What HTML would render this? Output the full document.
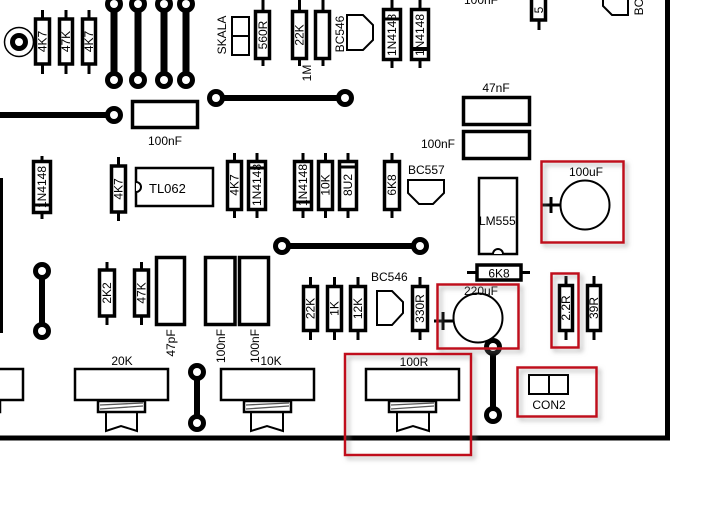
<!DOCTYPE html>
<html><head><meta charset="utf-8"><style>
html,body{margin:0;padding:0;background:#fff;}
svg{display:block;}
text{font-family:"Liberation Sans",sans-serif;font-size:12px;fill:#000;}
</style></head><body>
<svg width="725" height="509" viewBox="0 0 725 509" xmlns="http://www.w3.org/2000/svg">
<defs>
<filter id="sh" x="-20%" y="-20%" width="140%" height="140%">
<feDropShadow dx="3" dy="3" stdDeviation="2.5" flood-color="#888" flood-opacity="0.6"/>
</filter>
</defs>
<rect width="725" height="509" fill="#fff"/>

<!-- top-left ring -->
<circle cx="19" cy="42" r="14.5" fill="none" stroke="#000" stroke-width="1.5"/>
<circle cx="19" cy="42" r="9" fill="#000"/>
<circle cx="19" cy="42" r="4" fill="#fff"/>

<g stroke="#000" fill="#fff">
<!-- top resistors -->
<line x1="42.5" y1="10" x2="42.5" y2="74" stroke-width="3"/>
<rect x="35.5" y="19" width="14" height="45" stroke-width="3.5"/>
<line x1="66" y1="10" x2="66" y2="74" stroke-width="3"/>
<rect x="59.5" y="19" width="13" height="45" stroke-width="3.5"/>
<line x1="89" y1="10" x2="89" y2="74" stroke-width="3"/>
<rect x="82.5" y="19" width="13" height="45" stroke-width="3.5"/>
</g>
<text transform="translate(42.5,41.5) rotate(-90)" text-anchor="middle" dominant-baseline="central">4K7</text>
<text transform="translate(66,41.5) rotate(-90)" text-anchor="middle" dominant-baseline="central">47K</text>
<text transform="translate(89,41.5) rotate(-90)" text-anchor="middle" dominant-baseline="central">4K7</text>

<!-- top vertical tracks -->
<g stroke="#000" stroke-width="7">
<line x1="114" y1="4" x2="114" y2="80"/>
<line x1="138" y1="4" x2="138" y2="80"/>
<line x1="164" y1="4" x2="164" y2="80"/>
<line x1="186" y1="4" x2="186" y2="80"/>
</g>
<g fill="#000">
<circle cx="114" cy="4" r="9"/><circle cx="138" cy="4" r="9"/><circle cx="164" cy="4" r="9"/><circle cx="186" cy="4" r="9"/>
<circle cx="114" cy="80" r="9"/><circle cx="138" cy="80" r="9"/><circle cx="164" cy="80" r="9"/><circle cx="186" cy="80" r="9"/>
</g>
<g fill="#fff">
<circle cx="114" cy="4" r="4"/><circle cx="138" cy="4" r="4"/><circle cx="164" cy="4" r="4"/><circle cx="186" cy="4" r="4"/>
<circle cx="114" cy="80" r="4"/><circle cx="138" cy="80" r="4"/><circle cx="164" cy="80" r="4"/><circle cx="186" cy="80" r="4"/>
</g>

<!-- horizontal track left -->
<line x1="0" y1="115" x2="114" y2="115" stroke="#000" stroke-width="6"/>
<circle cx="114" cy="115" r="9" fill="#000"/><circle cx="114" cy="115" r="4" fill="#fff"/>

<!-- 100nF cap -->
<rect x="132.5" y="101.5" width="65" height="26" fill="#fff" stroke="#000" stroke-width="3.5"/>
<text x="165" y="145" text-anchor="middle">100nF</text>

<!-- track 217-345 -->
<line x1="216" y1="98" x2="345" y2="98" stroke="#000" stroke-width="6"/>
<circle cx="216" cy="98" r="9" fill="#000"/><circle cx="216" cy="98" r="4" fill="#fff"/>
<circle cx="345" cy="98" r="9" fill="#000"/><circle cx="345" cy="98" r="4" fill="#fff"/>

<!-- SKALA -->
<text transform="translate(222,35) rotate(-90)" text-anchor="middle" dominant-baseline="central">SKALA</text>
<rect x="232" y="17" width="17" height="38" fill="#fff" stroke="#000" stroke-width="2"/>
<line x1="232" y1="36" x2="249" y2="36" stroke="#000" stroke-width="2"/>

<g stroke="#000" fill="#fff">
<line x1="263" y1="0" x2="263" y2="66" stroke-width="3"/>
<rect x="255.5" y="11.5" width="14" height="47" stroke-width="3.5"/>
<line x1="299.5" y1="0" x2="299.5" y2="66" stroke-width="3"/>
<rect x="292.5" y="11.5" width="14" height="47" stroke-width="3.5"/>
<line x1="323" y1="0" x2="323" y2="66" stroke-width="3"/>
<rect x="315.5" y="11.5" width="14" height="47" stroke-width="3.5"/>
<!-- diodes -->
<line x1="392" y1="0" x2="392" y2="68" stroke-width="3"/>
<rect x="383.5" y="9.5" width="17" height="50" stroke-width="3.5"/>
<line x1="420" y1="0" x2="420" y2="68" stroke-width="3"/>
<rect x="411.5" y="9.5" width="17" height="50" stroke-width="3.5"/>
</g>
<line x1="383.5" y1="19" x2="400.5" y2="19" stroke="#000" stroke-width="3"/>
<line x1="411.5" y1="49" x2="428.5" y2="49" stroke="#000" stroke-width="4"/>
<text transform="translate(263,35) rotate(-90)" text-anchor="middle" dominant-baseline="central">560R</text>
<text transform="translate(299.5,35) rotate(-90)" text-anchor="middle" dominant-baseline="central">22K</text>
<text transform="translate(307,73) rotate(-90)" text-anchor="middle" dominant-baseline="central">1M</text>
<text transform="translate(340,34) rotate(-90)" text-anchor="middle" dominant-baseline="central">BC546</text>
<text transform="translate(392,35) rotate(-90)" text-anchor="middle" dominant-baseline="central">1N4148</text>
<text transform="translate(420,35) rotate(-90)" text-anchor="middle" dominant-baseline="central">1N4148</text>
<polygon points="347,15 363,15 373,25 373,40 363,50 347,50" fill="#fff" stroke="#000" stroke-width="2"/>

<!-- top right -->
<line x1="539" y1="0" x2="539" y2="30" stroke="#000" stroke-width="3"/>
<rect x="531.5" y="-5" width="14" height="25" fill="#fff" stroke="#000" stroke-width="3.5"/>
<text transform="translate(539,10) rotate(-90)" text-anchor="middle" dominant-baseline="central">5</text>
<polyline points="603,0 603,6 612,15 628,15 628,0" fill="none" stroke="#000" stroke-width="2"/>
<text transform="translate(639,7) rotate(-90)" text-anchor="middle" dominant-baseline="central">BC</text>
<text x="481" y="4" text-anchor="middle">100nF</text>

<!-- borders -->
<line x1="667.5" y1="0" x2="667.5" y2="440" stroke="#000" stroke-width="5"/>
<line x1="0" y1="438" x2="670" y2="438" stroke="#000" stroke-width="5"/>
<line x1="1.5" y1="178" x2="1.5" y2="333" stroke="#000" stroke-width="3"/>

<!-- 47nF caps -->
<text x="496" y="92" text-anchor="middle">47nF</text>
<rect x="463.5" y="97.5" width="66" height="27" fill="#fff" stroke="#000" stroke-width="3.5"/>
<rect x="463.5" y="131.5" width="66" height="27" fill="#fff" stroke="#000" stroke-width="3.5"/>
<text x="455" y="148" text-anchor="end">100nF</text>

<!-- LM555 -->
<rect x="479" y="178" width="38" height="76" fill="#fff" stroke="#000" stroke-width="2.5"/>
<path d="M493,254 A5,5 0 0 1 503,254" fill="#fff" stroke="#000" stroke-width="2"/>
<text x="479" y="225">LM555</text>

<!-- 6K8 horizontal -->
<line x1="467" y1="272.5" x2="530" y2="272.5" stroke="#000" stroke-width="3"/>
<rect x="477" y="265" width="44" height="15" fill="#fff" stroke="#000" stroke-width="3.5"/>
<text x="499" y="277.5" text-anchor="middle">6K8</text>

<!-- 100uF -->
<circle cx="585" cy="205" r="24.5" fill="#fff" stroke="#000" stroke-width="2"/>
<line x1="542" y1="205" x2="561" y2="205" stroke="#000" stroke-width="3"/>
<line x1="551" y1="197" x2="551" y2="213" stroke="#000" stroke-width="3"/>
<text x="586" y="176" text-anchor="middle">100uF</text>

<!-- middle row -->
<g stroke="#000" fill="#fff">
<line x1="42" y1="156" x2="42" y2="219" stroke-width="3"/>
<rect x="33.5" y="161.5" width="17" height="51" stroke-width="3.5"/>
<line x1="118.5" y1="157" x2="118.5" y2="221" stroke-width="3"/>
<rect x="111.5" y="166" width="14" height="46" stroke-width="3.5"/>
<line x1="234.5" y1="153" x2="234.5" y2="218" stroke-width="3"/>
<rect x="227.5" y="161.5" width="14" height="48" stroke-width="3.5"/>
<line x1="257" y1="153" x2="257" y2="218" stroke-width="3"/>
<rect x="248.5" y="161.5" width="17" height="48" stroke-width="3.5"/>
<line x1="303" y1="153" x2="303" y2="218" stroke-width="3"/>
<rect x="294.5" y="161.5" width="17" height="48" stroke-width="3.5"/>
<line x1="325.5" y1="153" x2="325.5" y2="218" stroke-width="3"/>
<rect x="318.5" y="161.5" width="14" height="48" stroke-width="3.5"/>
<line x1="348" y1="153" x2="348" y2="218" stroke-width="3"/>
<rect x="339.5" y="161.5" width="17" height="48" stroke-width="3.5"/>
<line x1="392" y1="153" x2="392" y2="218" stroke-width="3"/>
<rect x="384.5" y="161.5" width="15" height="48" stroke-width="3.5"/>
</g>
<line x1="33.5" y1="205" x2="50.5" y2="205" stroke="#000" stroke-width="3"/>
<line x1="248.5" y1="168" x2="265.5" y2="168" stroke="#000" stroke-width="3"/>
<line x1="294.5" y1="202" x2="311.5" y2="202" stroke="#000" stroke-width="3"/>
<line x1="339.5" y1="167" x2="356.5" y2="167" stroke="#000" stroke-width="3"/>
<text transform="translate(42,187) rotate(-90)" text-anchor="middle" dominant-baseline="central">1N4148</text>
<text transform="translate(118.5,189) rotate(-90)" text-anchor="middle" dominant-baseline="central">4K7</text>
<text transform="translate(234.5,185) rotate(-90)" text-anchor="middle" dominant-baseline="central">4K7</text>
<text transform="translate(257,185) rotate(-90)" text-anchor="middle" dominant-baseline="central">1N4148</text>
<text transform="translate(303,185) rotate(-90)" text-anchor="middle" dominant-baseline="central">1N4148</text>
<text transform="translate(325.5,185) rotate(-90)" text-anchor="middle" dominant-baseline="central">10K</text>
<text transform="translate(348,185) rotate(-90)" text-anchor="middle" dominant-baseline="central">8U2</text>
<text transform="translate(392,185) rotate(-90)" text-anchor="middle" dominant-baseline="central">6K8</text>

<!-- TL062 -->
<rect x="136" y="168" width="77" height="38" fill="#fff" stroke="#000" stroke-width="2.5"/>
<path d="M136,182 A5,5 0 0 1 136,192" fill="#fff" stroke="#000" stroke-width="2"/>
<text x="149" y="193" style="font-size:13px">TL062</text>

<!-- BC557 -->
<text x="408" y="174">BC557</text>
<polygon points="408,180 444,180 444,193 433,204 419,204 408,193" fill="#fff" stroke="#000" stroke-width="2"/>

<!-- track 282-420 -->
<line x1="282" y1="246" x2="420" y2="246" stroke="#000" stroke-width="6"/>
<circle cx="282" cy="246" r="9" fill="#000"/><circle cx="282" cy="246" r="4" fill="#fff"/>
<circle cx="420" cy="246" r="9" fill="#000"/><circle cx="420" cy="246" r="4" fill="#fff"/>

<!-- left pad pair -->
<line x1="42" y1="271" x2="42" y2="331" stroke="#000" stroke-width="6"/>
<circle cx="42" cy="271" r="9" fill="#000"/><circle cx="42" cy="271" r="4" fill="#fff"/>
<circle cx="42" cy="331" r="9" fill="#000"/><circle cx="42" cy="331" r="4" fill="#fff"/>

<!-- lower-left resistors/caps -->
<g stroke="#000" fill="#fff">
<line x1="107" y1="262" x2="107" y2="325" stroke-width="3"/>
<rect x="99.5" y="270" width="15" height="46" stroke-width="3.5"/>
<line x1="141.5" y1="262" x2="141.5" y2="325" stroke-width="3"/>
<rect x="134.5" y="270" width="14" height="46" stroke-width="3.5"/>
<rect x="156.5" y="257.5" width="28" height="67" stroke-width="3.5"/>
<rect x="205.5" y="257.5" width="29.5" height="67" stroke-width="3.5"/>
<rect x="239.5" y="257.5" width="29" height="67" stroke-width="3.5"/>
</g>
<text transform="translate(107,293) rotate(-90)" text-anchor="middle" dominant-baseline="central">2K2</text>
<text transform="translate(141.5,293) rotate(-90)" text-anchor="middle" dominant-baseline="central">47K</text>
<text transform="translate(171,343) rotate(-90)" text-anchor="middle" dominant-baseline="central">47pF</text>
<text transform="translate(221,346) rotate(-90)" text-anchor="middle" dominant-baseline="central">100nF</text>
<text transform="translate(255,346) rotate(-90)" text-anchor="middle" dominant-baseline="central">100nF</text>

<!-- bottom middle resistors -->
<g stroke="#000" fill="#fff">
<line x1="310.5" y1="277" x2="310.5" y2="340" stroke-width="3"/>
<rect x="303.5" y="286.5" width="14" height="44" stroke-width="3.5"/>
<line x1="334.5" y1="277" x2="334.5" y2="340" stroke-width="3"/>
<rect x="327.5" y="286.5" width="14" height="44" stroke-width="3.5"/>
<line x1="358" y1="277" x2="358" y2="340" stroke-width="3"/>
<rect x="350.5" y="286.5" width="15" height="44" stroke-width="3.5"/>
<line x1="420" y1="277" x2="420" y2="340" stroke-width="3"/>
<rect x="412.5" y="286.5" width="15" height="44" stroke-width="3.5"/>
<line x1="566" y1="276" x2="566" y2="340" stroke-width="3"/>
<rect x="559.5" y="285.5" width="13" height="45" stroke-width="3.5"/>
<line x1="594" y1="276" x2="594" y2="340" stroke-width="3"/>
<rect x="587.5" y="285.5" width="13" height="45" stroke-width="3.5"/>
</g>
<text transform="translate(310.5,308.5) rotate(-90)" text-anchor="middle" dominant-baseline="central">22K</text>
<text transform="translate(334.5,308.5) rotate(-90)" text-anchor="middle" dominant-baseline="central">1K</text>
<text transform="translate(358,308.5) rotate(-90)" text-anchor="middle" dominant-baseline="central">12K</text>
<text transform="translate(420,308.5) rotate(-90)" text-anchor="middle" dominant-baseline="central">330R</text>
<text transform="translate(566,308) rotate(-90)" text-anchor="middle" dominant-baseline="central">2.2R</text>
<text transform="translate(594,308) rotate(-90)" text-anchor="middle" dominant-baseline="central">39R</text>

<text x="371" y="281">BC546</text>
<polygon points="377,291 392,291 403,302 403,313 392,325 377,325" fill="#fff" stroke="#000" stroke-width="2"/>

<!-- 220uF -->
<circle cx="478" cy="318" r="24.5" fill="#fff" stroke="#000" stroke-width="2"/>
<line x1="434" y1="321" x2="453" y2="321" stroke="#000" stroke-width="3"/>
<line x1="443" y1="312" x2="443" y2="330" stroke="#000" stroke-width="3"/>
<text x="481" y="295" text-anchor="middle">220uF</text>

<!-- pads 493 -->
<line x1="493" y1="347" x2="493" y2="415" stroke="#000" stroke-width="6"/>
<circle cx="493" cy="347" r="9" fill="#000"/><circle cx="493" cy="347" r="4" fill="#fff"/>
<circle cx="493" cy="415" r="9" fill="#000"/><circle cx="493" cy="415" r="4" fill="#fff"/>

<!-- CON2 -->
<rect x="529" y="375" width="39" height="19" fill="#fff" stroke="#000" stroke-width="2"/>
<line x1="549" y1="375" x2="549" y2="394" stroke="#000" stroke-width="2"/>
<text x="549" y="409" text-anchor="middle">CON2</text>

<!-- pad pair 197 -->
<line x1="197" y1="372" x2="197" y2="423" stroke="#000" stroke-width="6"/>
<circle cx="197" cy="372" r="9" fill="#000"/><circle cx="197" cy="372" r="4" fill="#fff"/>
<circle cx="197" cy="423" r="9" fill="#000"/><circle cx="197" cy="423" r="4" fill="#fff"/>

<!-- pots -->
<g stroke="#000" fill="#fff" stroke-width="2.5">
<rect x="-70" y="369" width="93" height="31"/>
<rect x="-47" y="401" width="47" height="11"/>
<rect x="75" y="369" width="93" height="31"/>
<rect x="98" y="401" width="47" height="11"/>
<polyline points="106,412 106,431 121,426 137,431 137,412" fill="none" stroke-width="2"/>
<rect x="221" y="369" width="93" height="31"/>
<rect x="244" y="401" width="47" height="11"/>
<polyline points="251,412 251,431 267,426 283,431 283,412" fill="none" stroke-width="2"/>
<rect x="366" y="369" width="93" height="31"/>
<rect x="389" y="401" width="47" height="11"/>
<polyline points="397,412 397,431 413,426 429,431 429,412" fill="none" stroke-width="2"/>
</g>
<g stroke="#555" stroke-width="1.3">
<line x1="100" y1="405" x2="143" y2="403"/><line x1="100" y1="409" x2="143" y2="406"/>
<line x1="246" y1="405" x2="289" y2="403"/><line x1="246" y1="409" x2="289" y2="406"/>
<line x1="391" y1="405" x2="434" y2="403"/><line x1="391" y1="409" x2="434" y2="406"/>
</g>
<text x="122" y="365" text-anchor="middle">20K</text>
<text x="271" y="365" text-anchor="middle">10K</text>
<text x="414" y="366" text-anchor="middle">100R</text>

<!-- red highlight boxes -->
<g fill="none" stroke="#c0101a" stroke-width="2.5" filter="url(#sh)">
<rect x="541.5" y="161.5" width="82" height="81"/>
<rect x="437.5" y="284.5" width="81" height="64"/>
<rect x="551.5" y="273.5" width="27" height="74"/>
<rect x="517.5" y="367.5" width="79" height="49"/>
<rect x="345" y="354" width="126" height="101"/>
</g>
</svg>
</body></html>
